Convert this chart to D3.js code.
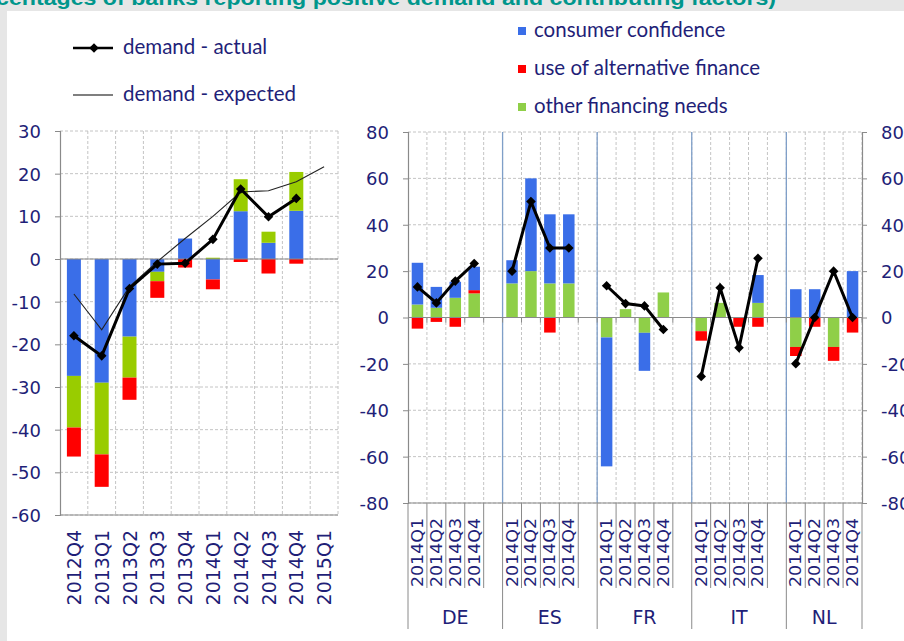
<!DOCTYPE html>
<html><head><meta charset="utf-8">
<script src="https://cdn.jsdelivr.net/npm/d3@7"></script>
<style>body{margin:0;background:#fff}svg{display:block}</style>
</head><body><svg id="c" width="904" height="641"></svg>
<script>
// ---------- DATA ----------
const titleText = "centages of banks reporting positive demand and contributing factors)";
const leftCategories = ["2012Q4","2013Q1","2013Q2","2013Q3","2013Q4","2014Q1","2014Q2","2014Q3","2014Q4","2015Q1"];
const leftConsumer = [-27.4,-29,-18.2,-3,4.8,-4.8,11.2,3.8,11.3,null];
const leftOther    = [-12.1,-16.8,-9.6,-2.2,0,0.3,7.5,2.6,9.1,null];
const leftAlt      = [-6.8,-7.6,-5.2,-3.9,-2,-2.3,-0.7,-3.4,-1.1,null];
const demandActual   = [-18,-22.7,-6.9,-1.2,-1,4.6,16.4,9.9,14.2,null];
const demandExpected = [-8.2,-16.6,-6.5,-0.6,4.8,10,15.7,16,18.1,21.6];
const leftTicks = [30,20,10,0,-10,-20,-30,-40,-50,-60];

const countries = ["DE","ES","FR","IT","NL"];
const quarters = ["2014Q1","2014Q2","2014Q3","2014Q4"];
const rightConsumer = { DE:[18,9,6.9,10.1], ES:[10,40,29.8,29.8], FR:[-55.6,0,-16.4,0], IT:[0,0,0,12], NL:[12.2,12.2,0,20] };
const rightAlt      = { DE:[-4.8,-1.9,-4,1.4], ES:[0,0,-6.5,0], FR:[0,0,0,0], IT:[-4.1,0,-4,-4], NL:[-3.9,-4,-6,-6.5] };
const rightOther    = { DE:[5.6,4.2,8.5,10.4], ES:[14.7,20,14.7,14.7], FR:[-8.6,3.6,-6.6,10.8], IT:[-5.9,6.3,0,6.3], NL:[-12.7,0,-12.7,0] };
const rightActual   = { DE:[13.2,6.3,15.7,23.3], ES:[20,50,30,30], FR:[13.7,6,5,-5.2], IT:[-25.4,12.8,-13,25.5], NL:[-19.9,0,20,0] };
const rightTicks = [80,60,40,20,0,-20,-40,-60,-80];

const seriesNames = { consumer:"consumer confidence", alt:"use of alternative finance", other:"other financing needs" };
const lineNames = ["demand - actual","demand - expected"];

// ---------- STYLE ----------
const colors = { consumer:"#3a6ee8", alt:"#ff0000", otherL:"#99cc00", otherR:"#8fcf48" };
const navy = "#1f1f78";
const gridCol = "#c4c4c4";
const axisCol = "#8a8a8a";
const tickFont = "'DejaVu Sans', sans-serif";
const legFont = "Lato, 'Open Sans', sans-serif";
const fmt = d => String(d);

const svg = d3.select("#c");
svg.append("rect").attr("width",904).attr("height",641).attr("fill","#fff");
svg.append("rect").attr("x",0).attr("y",0).attr("width",904).attr("height",11).attr("fill","#e6e6e6");
svg.append("rect").attr("x",0).attr("y",0).attr("width",7).attr("height",641).attr("fill","#e6e6e6");
svg.append("text").attr("x",-4).attr("y",5).attr("font-family","'Liberation Sans', Arial, sans-serif")
  .attr("font-weight","bold").attr("font-size",21).attr("fill","#00968c")
  .attr("textLength",780).attr("lengthAdjust","spacingAndGlyphs").text(titleText);

const diamond = d3.symbol().type(d3.symbolSquare).size(46);

// ---------- LEFT CHART ----------
const yL = d3.scaleLinear().domain([-60,30]).range([515,131]);
const xL = d3.scaleBand().domain(leftCategories).range([60,338]).padding(0);
const gL = svg.append("g");

gL.selectAll(".hg").data(leftTicks).join("line")
  .attr("x1",60).attr("x2",338).attr("y1",d=>yL(d)).attr("y2",d=>yL(d))
  .attr("stroke",gridCol).attr("stroke-dasharray","3,2");
gL.selectAll(".vg").data(leftCategories).join("line")
  .attr("x1",d=>xL(d)+xL.bandwidth()).attr("x2",d=>xL(d)+xL.bandwidth())
  .attr("y1",yL(30)).attr("y2",yL(-60))
  .attr("stroke",gridCol).attr("stroke-dasharray","3,2");

const leftRows = leftCategories.map((c,i)=>({cat:c, consumer:leftConsumer[i]||0, other:leftOther[i]||0, alt:leftAlt[i]||0}));
const leftStack = d3.stack().keys(["consumer","other","alt"]).offset(d3.stackOffsetDiverging)(leftRows);
const bwL = 14;
leftStack.forEach(s=>{
  const col = s.key==="other" ? colors.otherL : colors[s.key];
  gL.selectAll(".b"+s.key).data(s).join("rect")
    .attr("x",d=>xL(d.data.cat)+xL.bandwidth()/2-bwL/2).attr("width",bwL)
    .attr("y",d=>yL(Math.max(d[0],d[1]))).attr("height",d=>Math.abs(yL(d[0])-yL(d[1])))
    .attr("fill",col);
});

gL.append("line").attr("x1",60).attr("x2",338).attr("y1",yL(0)).attr("y2",yL(0)).attr("stroke",axisCol).attr("stroke-width",1.2);
gL.append("line").attr("x1",60).attr("x2",338).attr("y1",yL(-60)).attr("y2",yL(-60)).attr("stroke",axisCol).attr("stroke-width",1.2);
const axL = d3.axisLeft(yL).tickValues(leftTicks).tickSize(5).tickPadding(14).tickFormat(fmt);
const axLg = gL.append("g").attr("transform","translate(60,0)").call(axL);
axLg.select(".domain").attr("stroke",axisCol).attr("stroke-width",1.2);
axLg.selectAll(".tick line").attr("stroke",axisCol);
axLg.selectAll(".tick text").attr("font-family",tickFont).attr("font-size",18).attr("fill",navy).attr("dy","0.36em");

gL.selectAll(".xl").data(leftCategories).join("text")
  .attr("transform",d=>`translate(${xL(d)+xL.bandwidth()/2+7},530) rotate(-90)`)
  .attr("text-anchor","end").attr("font-family",tickFont).attr("font-size",19).attr("fill",navy).text(d=>d);

const lineL = d3.line().defined(d=>d.v!=null).x(d=>xL(d.c)+xL.bandwidth()/2).y(d=>yL(d.v));
const expData = leftCategories.map((c,i)=>({c, v:demandExpected[i]}));
const actData = leftCategories.map((c,i)=>({c, v:demandActual[i]}));
gL.append("path").attr("d",lineL(expData)).attr("fill","none").attr("stroke","#222").attr("stroke-width",1.1);
gL.append("path").attr("d",lineL(actData)).attr("fill","none").attr("stroke","#000").attr("stroke-width",3);
gL.selectAll(".mk").data(actData.filter(d=>d.v!=null)).join("path")
  .attr("d",diamond).attr("fill","#000")
  .attr("transform",d=>`translate(${xL(d.c)+xL.bandwidth()/2},${yL(d.v)}) rotate(45)`);

const legL = svg.append("g");
legL.append("line").attr("x1",73).attr("x2",113).attr("y1",48).attr("y2",48).attr("stroke","#000").attr("stroke-width",2.5);
legL.append("path").attr("d",diamond).attr("fill","#000").attr("transform","translate(94,48) rotate(45)");
legL.append("text").attr("x",123).attr("y",54).attr("font-family",legFont).attr("font-size",20.5).attr("fill",navy).text(lineNames[0]);
legL.append("line").attr("x1",73).attr("x2",113).attr("y1",95).attr("y2",95).attr("stroke","#000").attr("stroke-width",1.1);
legL.append("text").attr("x",123).attr("y",101).attr("font-family",legFont).attr("font-size",20.5).attr("fill",navy).text(lineNames[1]);

// ---------- RIGHT CHART ----------
const slots = [];
countries.forEach((c,ci)=>{ quarters.forEach(q=>slots.push(c+"|"+q)); if(ci<countries.length-1) slots.push(c+"|gap"); });
const xR = d3.scaleBand().domain(slots).range([408,862]).padding(0);
const yR = d3.scaleLinear().domain([-80,80]).range([503,132]);
const sw = xR.bandwidth();
const gR = svg.append("g");

gR.selectAll(".hg").data(rightTicks).join("line")
  .attr("x1",408).attr("x2",862).attr("y1",d=>yR(d)).attr("y2",d=>yR(d))
  .attr("stroke",gridCol).attr("stroke-dasharray","3,2");
gR.selectAll(".vg").data(slots).join("line")
  .attr("x1",d=>xR(d)+sw).attr("x2",d=>xR(d)+sw).attr("y1",yR(80)).attr("y2",yR(-80))
  .attr("stroke",gridCol).attr("stroke-dasharray","3,2");

const rightRows = [];
countries.forEach(c=>quarters.forEach((q,i)=>rightRows.push({slot:c+"|"+q, other:rightOther[c][i], alt:rightAlt[c][i], consumer:rightConsumer[c][i]})));
const rightStack = d3.stack().keys(["other","alt","consumer"]).offset(d3.stackOffsetDiverging)(rightRows);
const bwR = 11.5;
rightStack.forEach(s=>{
  const col = s.key==="other" ? colors.otherR : colors[s.key];
  gR.selectAll(".b"+s.key).data(s.filter(d=>d[0]!==d[1])).join("rect")
    .attr("x",d=>xR(d.data.slot)+sw/2-bwR/2).attr("width",bwR)
    .attr("y",d=>yR(Math.max(d[0],d[1]))).attr("height",d=>Math.abs(yR(d[0])-yR(d[1])))
    .attr("fill",col);
});

const groupStart = c=>xR(c+"|2014Q1");
const groupEnd = (c,ci)=> ci<countries.length-1 ? xR(c+"|gap")+sw : xR(c+"|2014Q4")+sw;
countries.forEach((c,ci)=>{
  if(ci>0) gR.append("line").attr("x1",groupStart(c)).attr("x2",groupStart(c)).attr("y1",yR(80)).attr("y2",yR(-80))
    .attr("stroke","#7f9fc8").attr("stroke-width",1.3);
});

gR.append("line").attr("x1",408).attr("x2",862).attr("y1",yR(0)).attr("y2",yR(0)).attr("stroke",axisCol).attr("stroke-width",1.2);
gR.selectAll(".zt").data(slots).join("line")
  .attr("x1",d=>xR(d)+sw).attr("x2",d=>xR(d)+sw).attr("y1",yR(0)).attr("y2",yR(0)+5).attr("stroke",axisCol);
gR.append("line").attr("x1",408).attr("x2",862).attr("y1",yR(-80)).attr("y2",yR(-80)).attr("stroke",axisCol).attr("stroke-width",1.2);

const axR1 = d3.axisLeft(yR).tickValues(rightTicks).tickSize(5).tickPadding(14).tickFormat(fmt);
const axR1g = gR.append("g").attr("transform","translate(408,0)").call(axR1);
const axR2 = d3.axisRight(yR).tickValues(rightTicks).tickSize(5).tickPadding(14).tickFormat(fmt);
const axR2g = gR.append("g").attr("transform","translate(862,0)").call(axR2);
[axR1g,axR2g].forEach(g=>{
  g.select(".domain").attr("stroke",axisCol).attr("stroke-width",1.2);
  g.selectAll(".tick line").attr("stroke",axisCol);
  g.selectAll(".tick text").attr("font-family",tickFont).attr("font-size",18).attr("fill",navy).attr("dy","0.36em");
});

const lineR = d3.line().x(d=>xR(d.slot)+sw/2).y(d=>yR(d.v));
countries.forEach(c=>{
  const pts = quarters.map((q,i)=>({slot:c+"|"+q, v:rightActual[c][i]}));
  gR.append("path").attr("d",lineR(pts)).attr("fill","none").attr("stroke","#000").attr("stroke-width",3);
  gR.selectAll(".mk"+c).data(pts).join("path").attr("d",diamond).attr("fill","#000")
    .attr("transform",d=>`translate(${xR(d.slot)+sw/2},${yR(d.v)}) rotate(45)`);
});

const labG = svg.append("g");
countries.forEach((c,ci)=>{
  quarters.forEach((q,i)=>{
    const x0 = xR(c+"|"+q);
    labG.append("text").attr("transform",`translate(${x0+sw/2+5.5},518) rotate(-90)`)
      .attr("text-anchor","end").attr("font-family",tickFont).attr("font-size",15).attr("fill",navy)
      .attr("textLength",69).attr("lengthAdjust","spacingAndGlyphs").text(q);
    if(i>0) labG.append("line").attr("x1",x0).attr("x2",x0).attr("y1",503).attr("y2",588).attr("stroke",axisCol);
  });
  const qEnd = xR(c+"|2014Q4")+sw;
  if(ci<countries.length-1) labG.append("line").attr("x1",qEnd).attr("x2",qEnd).attr("y1",503).attr("y2",588).attr("stroke",axisCol);
  const gs = groupStart(c), ge = groupEnd(c,ci);
  labG.append("line").attr("x1",gs).attr("x2",gs).attr("y1",503).attr("y2",629).attr("stroke",axisCol);
  if(ci===countries.length-1) labG.append("line").attr("x1",ge).attr("x2",ge).attr("y1",503).attr("y2",629).attr("stroke",axisCol);
  labG.append("text").attr("x",(gs+ge)/2).attr("y",624).attr("text-anchor","middle")
    .attr("font-family",tickFont).attr("font-size",19).attr("fill",navy).text(c);
});

const legR = svg.append("g");
[["consumer",colors.consumer,31],["alt",colors.alt,69],["other",colors.otherR,107]].forEach(([k,col,y])=>{
  legR.append("rect").attr("x",518).attr("y",y-4).attr("width",8).attr("height",8).attr("fill",col);
  legR.append("text").attr("x",534).attr("y",y+6).attr("font-family",legFont).attr("font-size",20.5).attr("fill",navy).text(seriesNames[k]);
});
</script></body></html>
